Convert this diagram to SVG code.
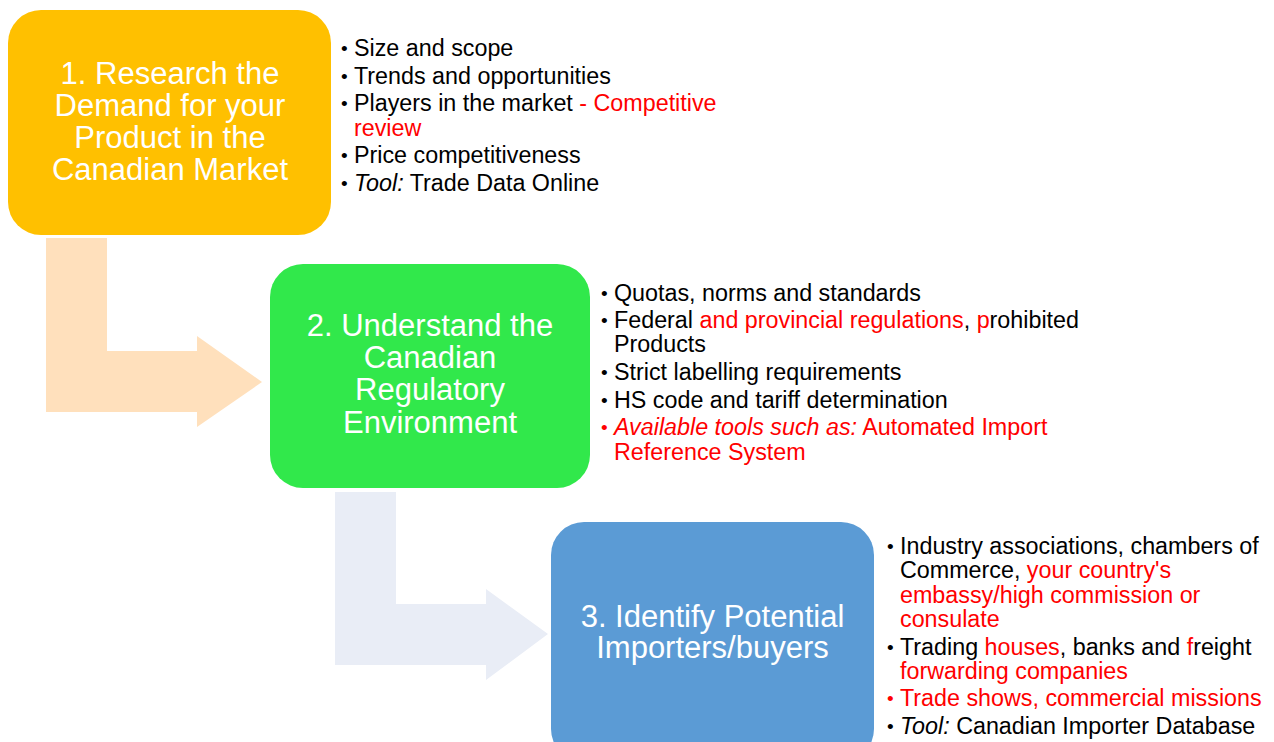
<svg xmlns="http://www.w3.org/2000/svg" width="1274" height="742" viewBox="0 0 1274 742">
<style>
text{font-family:"Liberation Sans",Arial,sans-serif;}
.title{font-size:31px;fill:#FFFFFF;text-anchor:middle;}
.bl{font-size:23.3px;fill:#000000;}
.bu{font-size:19px;fill:#000000;}
.r{fill:#FF0000;}
.i{font-style:italic;}
</style>
<rect width="1274" height="742" fill="#FFFFFF"/>
<g id="connectors">
<polygon points="46,238 107,238 107,351 197,351 197,336 262,382 197,427 197,412 46,412" fill="#FFE0BC"/>
<polygon points="335,492 396,492 396,604 486,604 486,589 548,634 486,680 486,665 335,665" fill="#E9EDF6"/>
</g>
<g id="node1">
<rect x="8" y="10" width="323" height="225" rx="33" ry="33" fill="#FFC000"/>
<text class="title"><tspan x="170" y="83.5">1. Research the</tspan><tspan x="170" y="115.8">Demand for your</tspan><tspan x="170" y="148.1">Product in the</tspan><tspan x="170" y="180.4">Canadian Market</tspan></text>
<text class="bu" x="341" y="55">•</text><text class="bl" x="354" y="56">Size and scope</text>
<text class="bu" x="341" y="82.6">•</text><text class="bl" x="354" y="83.6">Trends and opportunities</text>
<text class="bu" x="341" y="110.2">•</text><text class="bl" x="354" y="111.2">Players in the market <tspan class="r">- Competitive</tspan></text>
<text class="bl r" x="354" y="135.5">review</text>
<text class="bu" x="341" y="162.1">•</text><text class="bl" x="354" y="163.1">Price competitiveness</text>
<text class="bu" x="341" y="189.7">•</text><text class="bl" x="354" y="190.7"><tspan class="i">Tool:</tspan> Trade Data Online</text>
</g>
<g id="node2">
<rect x="270" y="264" width="320" height="224" rx="33" ry="33" fill="#31E84B"/>
<text class="title"><tspan x="430" y="336">2. Understand the</tspan><tspan x="430" y="368.2">Canadian</tspan><tspan x="430" y="400.4">Regulatory</tspan><tspan x="430" y="432.6">Environment</tspan></text>
<text class="bu" x="601" y="299.5">•</text><text class="bl" x="614" y="300.5">Quotas, norms and standards</text>
<text class="bu" x="601" y="327">•</text><text class="bl" x="614" y="328">Federal <tspan class="r">and provincial regulations</tspan>, <tspan class="r">p</tspan>rohibited</text>
<text class="bl" x="614" y="352.3">Products</text>
<text class="bu" x="601" y="379">•</text><text class="bl" x="614" y="380">Strict labelling requirements</text>
<text class="bu" x="601" y="406.6">•</text><text class="bl" x="614" y="407.6">HS code and tariff determination</text>
<text class="bu r" x="601" y="434.2">•</text><text class="bl r" x="614" y="435.2"><tspan class="i">Available tools such as:</tspan> Automated Import</text>
<text class="bl r" x="614" y="459.5">Reference System</text>
</g>
<g id="node3">
<rect x="551" y="522" width="323" height="240" rx="33" ry="33" fill="#5B9BD5"/>
<text class="title"><tspan x="712.5" y="627.3">3. Identify Potential</tspan><tspan x="712.5" y="658.3">Importers/buyers</tspan></text>
<text class="bu" x="887" y="553">•</text><text class="bl" x="900" y="554">Industry associations, chambers of</text>
<text class="bl" x="900" y="578.3">Commerce, <tspan class="r">your country's</tspan></text>
<text class="bl r" x="900" y="602.6">embassy/high commission or</text>
<text class="bl r" x="900" y="626.9">consulate</text>
<text class="bu" x="887" y="653.5">•</text><text class="bl" x="900" y="654.5">Trading <tspan class="r">houses</tspan>, banks and <tspan class="r">f</tspan>reight</text>
<text class="bl r" x="900" y="678.8">forwarding companies</text>
<text class="bu r" x="887" y="705.4">•</text><text class="bl r" x="900" y="706.4">Trade shows, commercial missions</text>
<text class="bu" x="887" y="733">•</text><text class="bl" x="900" y="734"><tspan class="i">Tool:</tspan> Canadian Importer Database</text>
</g>
</svg>
